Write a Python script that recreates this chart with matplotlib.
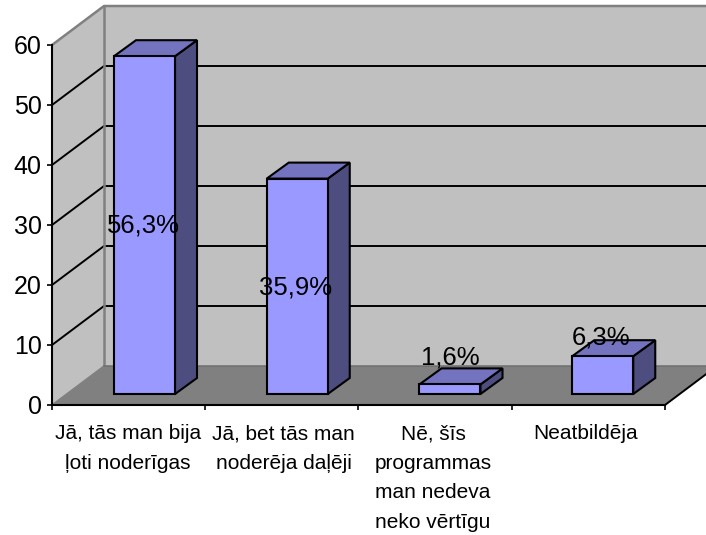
import matplotlib
matplotlib.use("Agg")
import matplotlib.pyplot as plt
from matplotlib.patches import Polygon

plt.rcParams['font.family'] = ['Liberation Sans', 'DejaVu Sans']

# dati
categories = ["Jā, tās man bija\nļoti noderīgas",
              "Jā, bet tās man\nnoderēja daļēji",
              "Nē, šīs\nprogrammas\nman nedeva\nneko vērtīgu",
              "Neatbildēja"]
values = [56.3, 35.9, 1.6, 6.3]
labels = ["56,3%", "35,9%", "1,6%", "6,3%"]
y_ticks = [0, 10, 20, 30, 40, 50, 60]

W, H = 706, 535
fig = plt.figure(figsize=(W / 100, H / 100), dpi=100)
ax = fig.add_axes([52 / W, (H - 405) / H, 613 / W, 360 / H])
ax.set_xlim(0, 4)
ax.set_ylim(0, 60)
ax.patch.set_visible(False)

# pikseli -> datu vienibas
px = 4 / 613
py = 60 / 360
dx, dy = 52 * px, 39 * py       # grida dziļums
bdx, bdy = 22 * px, 16 * py     # stabina dziļums
base = 11 * py                  # stabini nav uz priekšējās malas
bw = 61 * px
bar_shift = 62 * px
xmax = 4

GRAY = '#c0c0c0'
EDGE = '#808080'

def poly(pts, fc, ec='none', lw=0, z=1):
    ax.add_patch(Polygon(pts, closed=True, facecolor=fc, edgecolor=ec, linewidth=lw,
                         zorder=z, clip_on=False, joinstyle='miter'))

# sienas un grida
poly([(dx, dy), (xmax + dx, dy), (xmax + dx, 60 + dy), (dx, 60 + dy)], GRAY)
poly([(0, 0), (dx, dy), (dx, 60 + dy), (0, 60)], GRAY)
poly([(0, 0), (xmax, 0), (xmax + dx, dy), (dx, dy)], EDGE)

# rezgis
for v in y_ticks[1:-1]:
    ax.plot([0, dx, xmax + dx], [v, v + dy, v + dy], color='black', lw=1.4, zorder=2, clip_on=False)

# sienu malas
ax.plot([0, dx, xmax + dx], [60, 60 + dy, 60 + dy], color=EDGE, lw=1.8, zorder=2, clip_on=False)
ax.plot([dx, dx], [dy, 60 + dy], color=EDGE, lw=1.8, zorder=2, clip_on=False)
ax.plot([0, dx], [0, dy], color=EDGE, lw=1.1, zorder=2, clip_on=False)
ax.plot([dx, xmax + dx], [dy, dy], color='#6e6e6e', lw=1.1, zorder=2, clip_on=False)
ax.plot([xmax, xmax + dx], [0, dy], color='black', lw=1.4, zorder=2, clip_on=False)

# stabini
for i, v in enumerate(values):
    x0 = i + bar_shift - 0.5 * i * px
    x1 = x0 + bw
    y0 = base
    y1 = base + v
    poly([(x1, y0), (x1 + bdx, y0 + bdy), (x1 + bdx, y1 + bdy), (x1, y1)], '#4d4d80', 'black', 1.5, 3)
    poly([(x0, y1), (x1, y1), (x1 + bdx, y1 + bdy), (x0 + bdx, y1 + bdy)], '#7373bf', 'black', 1.5, 3)
    poly([(x0, y0), (x1, y0), (x1, y1), (x0, y1)], '#9999ff', 'black', 1.5, 3)

# vērtību uzraksti
label_pos = [29.9, 19.6, 7.9, 11.2]
label_nudge = [-1, -2, -1, -3]
for i, (txt, yy) in enumerate(zip(labels, label_pos)):
    ax.text(i + bar_shift + bw / 2 + label_nudge[i] * px, yy, txt, ha='center', va='center',
            fontsize=18.5, color='black', zorder=5, clip_on=False)

# asis
for s in ['top', 'right']:
    ax.spines[s].set_visible(False)
for s in ['left', 'bottom']:
    ax.spines[s].set_linewidth(1.5)
    ax.spines[s].set_zorder(4)

ax.set_yticks(y_ticks)
ax.tick_params(axis='y', labelsize=18, length=3.5, width=1.2, pad=4)
ax.set_xticks(range(5))
ax.set_xticklabels([])
ax.tick_params(axis='x', which='major', length=3.5, width=1.2)
ax.set_xticks([i + 0.5 + n * px for i, n in enumerate([-1, 2, -2, -3])], categories, minor=True)
ax.tick_params(axis='x', which='minor', length=0, labelsize=15, pad=14)
for t in ax.get_xticklabels(minor=True):
    t.set_linespacing(1.7)

fig.savefig('out.png', dpi=100)
